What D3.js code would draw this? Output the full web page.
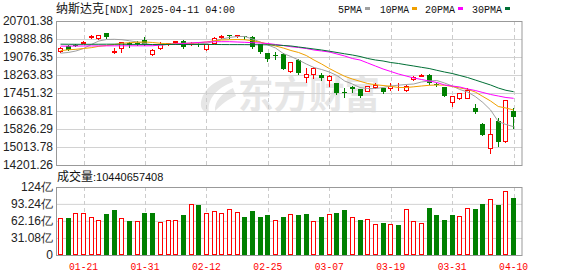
<!DOCTYPE html>
<html>
<head>
<meta charset="utf-8">
<script src="https://cdn.jsdelivr.net/npm/d3@7"></script>
<style>
body { margin: 0; background: #fff; }
svg { display: block; }
</style>
</head>
<body>
<div id="chart"></div>
<script>
// trading days shown (2025)
const dates = ['01-15','01-16','01-17','01-21','01-22','01-23','01-24','01-27','01-28','01-29','01-30','01-31',
  '02-03','02-04','02-05','02-06','02-07','02-10','02-11','02-12','02-13','02-14','02-18','02-19','02-20','02-21','02-24','02-25','02-26','02-27','02-28',
  '03-03','03-04','03-05','03-06','03-07','03-10','03-11','03-12','03-13','03-14','03-17','03-18','03-19','03-20','03-21','03-24','03-25','03-26','03-27','03-28','03-31',
  '04-01','04-02','04-03','04-04','04-07','04-08','04-09','04-10'];

const open = [19365,19580,19640,19730,19965,19920,20150,19280,19483,19700,19720,19840,19230,19470,19660,19760,19810,19680,19680,19430,
  19720,19990,20065,20010,20010,19990,19650,19240,19150,19200,18460,18940,18187,18310,18264,18038,17890,17500,17730,17620,
  17555,17710,17660,17660,17660,17590,18070,18240,18260,17850,17710,17060,17210,17240,16790,16050,14980,16188,15290,16640];
const high = [19545,19600,19680,19800,20060,20065,20180,19470,19760,19760,19810,19960,19420,19760,19720,19810,19860,19740,19720,19660,
  19960,20060,20080,20070,20020,20010,19670,19270,19290,19240,18860,18990,18566,18640,18340,18264,17900,17665,17745,17650,
  17780,17910,17680,17890,17890,17790,18210,18330,18290,17900,17720,17320,17460,17690,16950,16083,16310,16310,17150,16760];
const low = [19290,19370,19590,19700,19950,19880,19950,19240,19310,19540,19640,19630,19160,19425,19600,19650,19500,19640,19560,19400,
  19700,19950,19950,19990,19880,19500,19260,18900,18990,18520,18380,18300,17963,18115,18040,17767,17400,17285,17510,17260,
  17540,17660,17450,17590,17590,17540,18040,18200,17870,17760,17300,16865,17170,17210,16560,15550,14756,15072,15250,15885];
const close = [19500,19400,19630,19756,20009,20053,19975,19345,19735,19632,19681,19660,19395,19654,19692,19791,19523,19714,19643,19649,
  19945,20026,20041,20056,19962,19524,19286,18990,19110,18544,18847,18350,18330,18566,18115,18220,17465,17440,17650,17320,
  17767,17830,17510,17760,17690,17784,18190,18272,17890,17805,17330,17300,17440,17590,16580,15560,15600,15225,17135,16390];

// volume in 亿
const volume = [67,67,76.6,76.6,68.7,63.3,74.8,82,67,62,62,76.6,76.6,60,63.3,63.3,73,93,91.2,77.2,
  80.3,76.6,83.9,78.4,69.3,80.3,69.3,73,63.3,69.3,74.8,73,74.8,62,69.3,74.8,76.6,82,68.7,63.8,
  65,56.5,59,56.5,54.7,83.4,62,58.4,85.7,73,63.8,73,70.6,85.2,83.9,93,102.1,91.8,116.7,104.4];

const ma5 = [19248,19280,19347,19460,19641,19799,19866,19875,19857,19808,19754,19686,19618,19609,19650,19686,19695,19699,19695,19677,
  19799,19889,19957,20002,20002,19889,19754,19618,19483,19234,19099,18941,18760,18602,18512,18399,18241,17993,17858,17700,
  17655,17655,17700,17767,17804,17835,17858,17948,17993,18016,17903,17767,17609,17497,17293,17023,16684,16165,16030,15930];
const ma10 = [19361,19401,19424,19460,19496,19559,19596,19641,19695,19722,19744,19754,19731,19695,19672,19663,19672,19695,19722,19754,
  19808,19844,19857,19866,19857,19808,19744,19663,19573,19483,19370,19280,19144,18941,18760,18557,18377,18205,18083,17980,
  17880,17822,17790,17754,17700,17700,17731,17767,17799,17813,17804,17745,17677,17618,17497,17293,17090,16842,16774,16684];
const ma20 = [19566,19568,19571,19573,19575,19577,19579,19581,19582,19582,19581,19580,19584,19618,19641,19663,19686,19708,19731,19754,
  19763,19767,19767,19754,19740,19722,19708,19686,19641,19596,19541,19505,19460,19392,19347,19302,19212,19122,19009,18941,
  18806,18670,18535,18422,18309,18219,18129,18061,17993,17925,17813,17767,17722,17632,17564,17474,17384,17316,17248,17212];
const ma30 = [19655,19652,19650,19648,19650,19652,19654,19655,19652,19648,19645,19642,19640,19638,19640,19642,19640,19638,19640,19642,
  19640,19638,19636,19635,19634,19632,19630,19626,19618,19596,19573,19528,19483,19437,19392,19338,19280,19221,19167,19099,
  19009,18941,18896,18828,18783,18724,18670,18611,18557,18476,18399,18332,18241,18151,18038,17925,17813,17677,17573,17510];

const priceTicks = [14201.26, 15013.78, 15826.29, 16638.81, 17451.32, 18263.83, 19076.35, 19888.86, 20701.38];
const volTicks = [0, 31.08, 62.16, 93.24, 124];
const volTickLabels = ['0', '31.08亿', '62.16亿', '93.24亿', '124亿'];
const dateTicks = ['01-21','01-31','02-12','02-25','03-07','03-19','03-31','04-10'];
const maNames = ['5PMA', '10PMA', '20PMA', '30PMA'];
const maColors = ['#a0a0a0', '#f0a000', '#ff00ff', '#006f35'];
const lastVolume = '10440657408';

const W = 578, H = 276;
const left = 56, right = 522;
const priceTop = 21, priceBottom = 165;
const volTop = 187, volBottom = 255;
const RED = '#ff0000', GREEN = '#008000';
const numFont = 'Liberation Sans, Arial, sans-serif';
const monoFont = 'Liberation Mono, DejaVu Sans Mono, monospace';
const cjkFont = 'Noto Sans CJK SC, sans-serif';

const svg = d3.select('#chart').append('svg')
  .attr('width', W)
  .attr('height', H);

const x = d3.scaleBand()
  .domain(dates)
  .range([56.66, 517.46])
  .paddingInner(0.35)
  .paddingOuter(0.175);
const cx = d => x(d) + x.bandwidth() / 2;

const y = d3.scaleLinear().domain([priceTicks[0], priceTicks[priceTicks.length - 1]]).range([priceBottom, priceTop]);
const vy = d3.scaleLinear().domain([0, 124]).range([volBottom, volTop]);

// watermark (logo leaf + name)
const wm = svg.append('g').attr('fill', '#e6e6e6');
wm.append('path')
  .attr('d', 'M231,76 C214,80 200,92 201,106 C202,111 206,113 209,112 C207,100 216,88 233,82 Z M233,88 C222,93 214,102 215,111 C222,104 228,99 236,96 Z');
wm.append('text')
  .attr('x', 238).attr('y', 108)
  .attr('font-family', cjkFont)
  .attr('font-weight', 700)
  .attr('font-size', 38)
  .attr('textLength', 142)
  .attr('lengthAdjust', 'spacingAndGlyphs')
  .text('东方财富');

// price grid + labels
const yAxis = svg.append('g')
  .attr('transform', `translate(${left},0)`)
  .call(d3.axisLeft(y).tickValues(priceTicks).tickFormat(d => d.toFixed(2)).tickSize(-(right - left)).tickPadding(3));
yAxis.select('.domain').remove();
yAxis.selectAll('line').attr('stroke', '#d2d2d2');
yAxis.selectAll('text').attr('font-family', numFont).attr('font-size', 12).attr('fill', '#222');

// volume grid + labels
const vAxis = svg.append('g')
  .attr('transform', `translate(${left},0)`)
  .call(d3.axisLeft(vy).tickValues(volTicks).tickFormat((d, i) => volTickLabels[i]).tickSize(-(right - left)).tickPadding(3));
vAxis.select('.domain').remove();
vAxis.selectAll('line').attr('stroke', '#d2d2d2');
vAxis.selectAll('text').attr('font-family', numFont).attr('font-size', 12).attr('fill', '#222');

// dashed date lines
[[priceTop, priceBottom], [volTop, volBottom]].forEach(([t, b]) => {
  svg.append('g').selectAll('line')
    .data(dateTicks)
    .join('line')
    .attr('x1', d => Math.round(cx(d)) + 0.5)
    .attr('x2', d => Math.round(cx(d)) + 0.5)
    .attr('y1', t).attr('y2', b)
    .attr('stroke', '#cccccc')
    .attr('stroke-dasharray', '4,3');
});

// panel borders
svg.append('rect').attr('x', left + 0.5).attr('y', priceTop + 0.5).attr('width', right - left - 0.5).attr('height', priceBottom - priceTop)
  .attr('fill', 'none').attr('stroke', '#999');
svg.append('rect').attr('x', left + 0.5).attr('y', volTop + 0.5).attr('width', right - left - 0.5).attr('height', volBottom - volTop)
  .attr('fill', 'none').attr('stroke', '#999');

// candles
const candles = svg.append('g');
dates.forEach((d, i) => {
  const x0 = Math.round(cx(d) - 2.5);
  const up = close[i] >= open[i];
  const col = up ? RED : GREEN;
  candles.append('line')
    .attr('x1', x0 + 2.5).attr('x2', x0 + 2.5)
    .attr('y1', Math.round(y(high[i]))).attr('y2', Math.round(y(low[i])) + 1)
    .attr('stroke', col);
  const yt = Math.round(y(Math.max(open[i], close[i])));
  const yb = Math.round(y(Math.min(open[i], close[i])));
  if (up) {
    candles.append('rect')
      .attr('x', x0 + 0.5).attr('y', yt + 0.5)
      .attr('width', 4).attr('height', Math.max(yb - yt, 0))
      .attr('fill', '#fff').attr('stroke', col);
  } else {
    candles.append('rect')
      .attr('x', x0).attr('y', yt)
      .attr('width', 5).attr('height', Math.max(yb - yt, 1))
      .attr('fill', col);
  }
});

// moving averages
[ma5, ma10, ma20, ma30].forEach((ma, k) => {
  svg.append('path')
    .datum(ma)
    .attr('fill', 'none')
    .attr('stroke', maColors[k])
    .attr('stroke-width', 1)
    .attr('d', d3.line().x((v, i) => cx(dates[i])).y(v => y(v)));
});

// volume bars, coloured against previous close
const vols = svg.append('g');
dates.forEach((d, i) => {
  const x0 = Math.round(cx(d) - 2.5);
  const up = i === 0 ? close[i] >= open[i] : close[i] >= close[i - 1];
  const top = Math.round(vy(volume[i]));
  if (up) {
    vols.append('rect')
      .attr('x', x0 + 0.5).attr('y', top + 0.5)
      .attr('width', 4).attr('height', volBottom - top - 1)
      .attr('fill', '#fff').attr('stroke', RED);
  } else {
    vols.append('rect')
      .attr('x', x0).attr('y', top)
      .attr('width', 5).attr('height', volBottom - top)
      .attr('fill', GREEN);
  }
});

// date labels
svg.append('g').selectAll('text')
  .data(dateTicks)
  .join('text')
  .attr('x', d => cx(d))
  .attr('y', 270)
  .attr('text-anchor', 'middle')
  .attr('font-family', monoFont)
  .attr('font-size', 11)
  .attr('fill', RED)
  .attr('textLength', 29)
  .attr('lengthAdjust', 'spacingAndGlyphs')
  .text(d => d);

// title
svg.append('text').attr('x', 56).attr('y', 13)
  .attr('font-family', cjkFont).attr('font-size', 12).attr('fill', '#111')
  .text('纳斯达克');
svg.append('text').attr('x', 104).attr('y', 13)
  .attr('font-family', monoFont).attr('font-size', 11).attr('fill', '#111')
  .attr('textLength', 131).attr('lengthAdjust', 'spacingAndGlyphs')
  .text('[NDX] 2025-04-11 04:00');

// legend
const legX = [338, 380, 425, 472];
const legW = [24, 29, 30, 30];
maNames.forEach((n, k) => {
  svg.append('text').attr('x', legX[k]).attr('y', 13)
    .attr('font-family', monoFont).attr('font-size', 11).attr('fill', '#111')
    .attr('textLength', legW[k]).attr('lengthAdjust', 'spacingAndGlyphs')
    .text(n);
  svg.append('rect').attr('x', legX[k] + legW[k] + 3).attr('y', 7).attr('width', 5).attr('height', 3)
    .attr('fill', maColors[k]);
});

// volume title
svg.append('text').attr('x', 57).attr('y', 181)
  .attr('font-family', cjkFont).attr('font-size', 12).attr('fill', '#111')
  .text('成交量');
svg.append('text').attr('x', 93).attr('y', 181)
  .attr('font-family', numFont).attr('font-size', 11).attr('fill', '#111')
  .text(':' + lastVolume);
</script>
</body>
</html>
